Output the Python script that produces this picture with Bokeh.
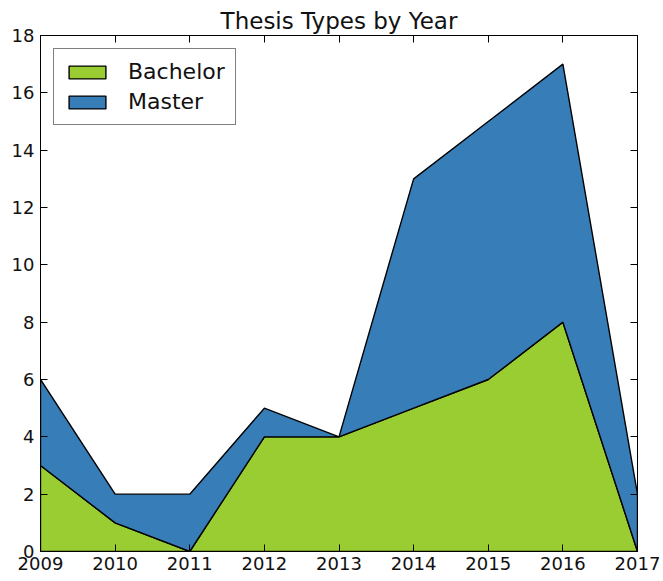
from bokeh.plotting import figure
from bokeh.models import Range1d, FixedTicker, LinearAxis, Legend, LegendItem, CustomJSTickFormatter
from bokeh.embed import file_html
from bokeh.resources import INLINE

years = [2009, 2010, 2011, 2012, 2013, 2014, 2015, 2016, 2017]
bachelor = [3, 1, 0, 4, 4, 5, 6, 8, 0]
master = [3, 1, 2, 1, 0, 8, 9, 9, 2]
y_ticks = [0, 2, 4, 6, 8, 10, 12, 14, 16, 18]

total = [b + m for b, m in zip(bachelor, master)]
zeros = [0] * len(years)

FONT = "DejaVu Sans"

p = figure(width=663, height=581, output_backend="svg", toolbar_location=None,
           x_range=Range1d(2009, 2017), y_range=Range1d(0, 18),
           min_border_left=40, min_border_right=26, min_border_top=35, min_border_bottom=30)
p.title.text = "Thesis Types by Year"
p.title.align = "center"
p.title.text_font = FONT
p.title.text_font_size = "23px"
p.title.text_font_style = "normal"
p.title.text_color = "#111111"
p.title.standoff = 3
p.outline_line_color = "black"
p.outline_line_width = 1
p.xgrid.visible = False
p.ygrid.visible = False

xs_b = years + years[::-1]
ys_b = bachelor + zeros[::-1]
xs_m = years + years[::-1]
ys_m = total + bachelor[::-1]

r_b = p.patch(xs_b, ys_b, fill_color="#9acd32", line_color="black", line_width=1.4)
r_m = p.patch(xs_m, ys_m, fill_color="#377eb8", line_color="black", line_width=1.4)

def style(ax, ticks, labels=True):
    ax.ticker = FixedTicker(ticks=ticks)
    ax.major_tick_in = 7
    ax.major_tick_out = 0
    ax.minor_tick_in = 0
    ax.minor_tick_out = 0
    ax.axis_line_color = "black"
    ax.major_tick_line_color = "black"
    ax.major_label_text_font = FONT
    ax.major_label_text_font_size = "18px"
    ax.major_label_text_color = "#111111"
    ax.major_label_standoff = 5
    if not labels:
        ax.formatter = CustomJSTickFormatter(code="return ''")
        ax.major_label_standoff = 0

style(p.xaxis[0], years)
style(p.yaxis[0], y_ticks)
p.yaxis[0].major_label_standoff = 6

top = LinearAxis()
style(top, years, labels=False)
p.add_layout(top, "above")
right = LinearAxis()
style(right, y_ticks, labels=False)
p.add_layout(right, "right")

legend = Legend(items=[LegendItem(label="Bachelor", renderers=[r_b]),
                       LegendItem(label="Master", renderers=[r_m])],
                location="top_left")
legend.margin = 13
legend.padding = 10
legend.spacing = 5
legend.glyph_width = 46
legend.glyph_height = 16
legend.label_text_font = FONT
legend.label_text_font_size = "22px"
legend.label_text_color = "#111111"
legend.label_standoff = 18
legend.border_line_color = "black"
legend.border_line_width = 1.2
legend.background_fill_alpha = 1
p.add_layout(legend)

open("out.html", "w").write(file_html(p, INLINE))
